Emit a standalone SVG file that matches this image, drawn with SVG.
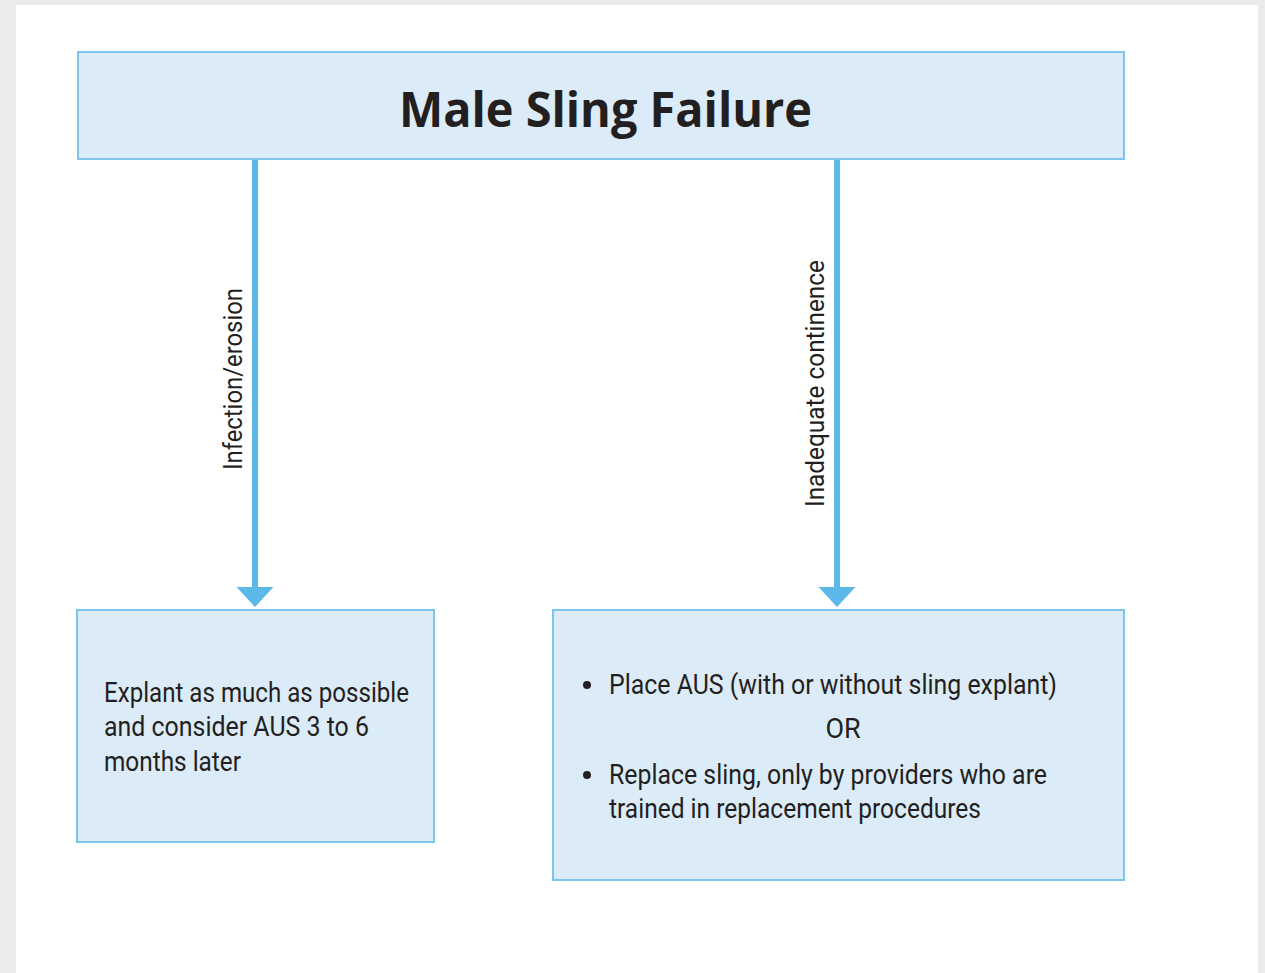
<svg xmlns="http://www.w3.org/2000/svg" width="1265" height="973" viewBox="0 0 1265 973">
  <style>
    .box { fill: #dcebf8; stroke: #7cc5ec; stroke-width: 2; }
    .title { font-family: "Open Sans", "Noto Sans", sans-serif; font-weight: 700; font-size: 48px; fill: #231f20; }
    .body { font-family: "Roboto", "Noto Sans", sans-serif; font-size: 27px; fill: #231f20; }
    .lbl { font-family: "Roboto", "Noto Sans", sans-serif; font-size: 25px; fill: #231f20; }
    .conn { stroke: #5bb8e8; stroke-width: 6; fill: none; marker-end: url(#head); }
  </style>
  <defs>
    <!-- solid triangular arrowhead, base sits at the line end -->
    <marker id="head" markerUnits="userSpaceOnUse" markerWidth="20" markerHeight="37" refX="0" refY="18.5" orient="auto" viewBox="0 0 20 37">
      <path d="M0,0 L20,18.5 L0,37 Z" fill="#5bb8e8"/>
    </marker>
  </defs>

  <!-- page background -->
  <rect x="0" y="0" width="1265" height="973" fill="#ebebeb"/>
  <rect x="16" y="5" width="1242" height="968" fill="#ffffff"/>

  <!-- connectors -->
  <g id="connectors">
    <line class="conn" x1="255" y1="159" x2="255" y2="587"/>
    <line class="conn" x1="837" y1="159" x2="837" y2="587"/>
    <text class="lbl" transform="translate(242,470) rotate(-90)" textLength="182" lengthAdjust="spacingAndGlyphs">Infection/erosion</text>
    <text class="lbl" transform="translate(824,507) rotate(-90)" textLength="247" lengthAdjust="spacingAndGlyphs">Inadequate continence</text>
  </g>

  <g id="node-title">
    <rect class="box" x="78" y="52" width="1046" height="107"/>
    <text class="title" x="399" y="127" textLength="413" lengthAdjust="spacingAndGlyphs">Male Sling Failure</text>
  </g>

  <g id="node-explant">
    <rect class="box" x="77" y="610" width="357" height="232"/>
    <text class="body" x="104" y="702" textLength="305" lengthAdjust="spacingAndGlyphs">Explant as much as possible</text>
    <text class="body" x="104" y="736" textLength="265" lengthAdjust="spacingAndGlyphs">and consider AUS 3 to 6</text>
    <text class="body" x="104" y="771" textLength="137" lengthAdjust="spacingAndGlyphs">months later</text>
  </g>

  <g id="node-options">
    <rect class="box" x="553" y="610" width="571" height="270"/>
    <circle cx="587" cy="685" r="4" fill="#231f20"/>
    <text class="body" x="609" y="694" textLength="448" lengthAdjust="spacingAndGlyphs">Place AUS (with or without sling explant)</text>
    <text class="body" x="843" y="738" text-anchor="middle">OR</text>
    <circle cx="587" cy="775" r="4" fill="#231f20"/>
    <text class="body" x="609" y="784" textLength="438" lengthAdjust="spacingAndGlyphs">Replace sling, only by providers who are</text>
    <text class="body" x="609" y="818" textLength="372" lengthAdjust="spacingAndGlyphs">trained in replacement procedures</text>
  </g>
</svg>
